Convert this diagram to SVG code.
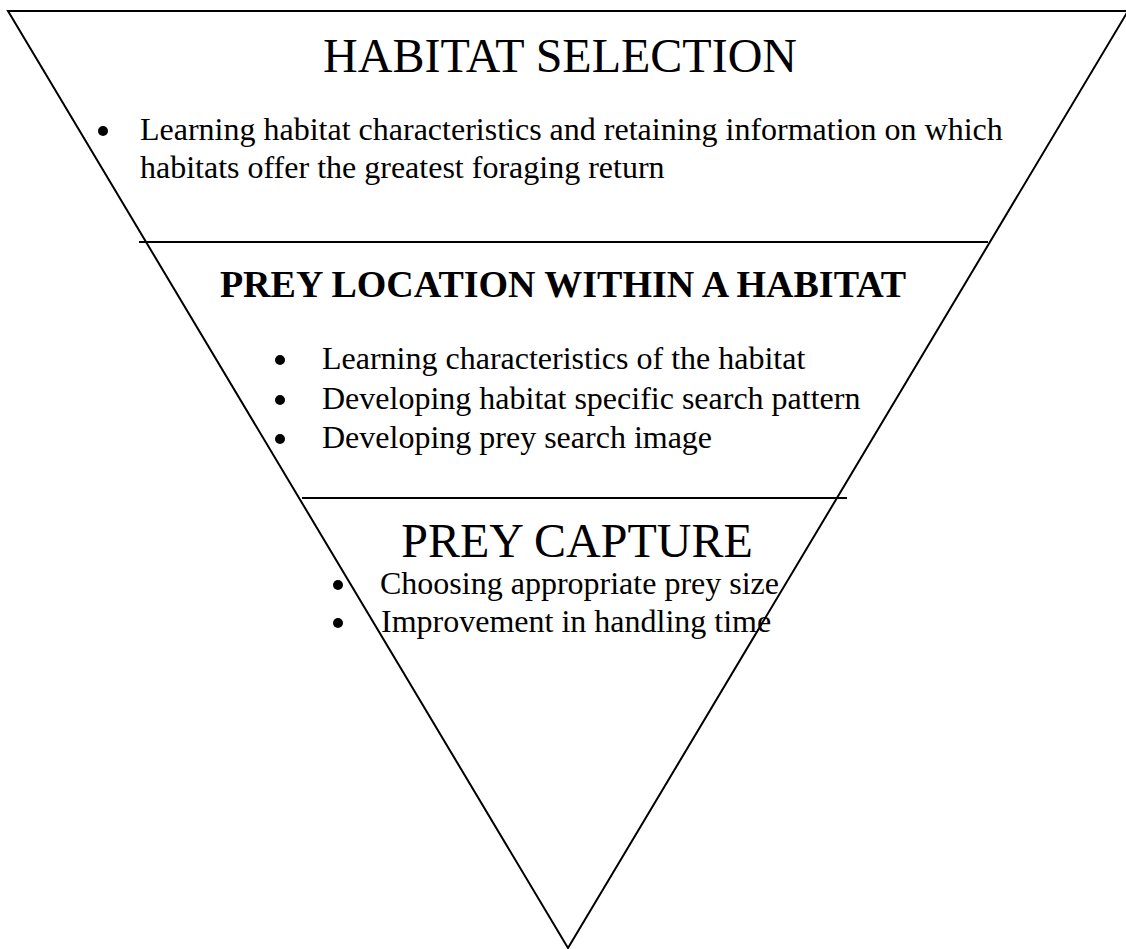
<svg xmlns="http://www.w3.org/2000/svg" width="1126" height="949" viewBox="0 0 1126 949">
<style>
.ln{stroke:#000;stroke-width:2;fill:none}
.t{font-family:"Liberation Serif","Times New Roman",serif;fill:#000}
.h{font-size:48px}
.hb{font-size:38px;font-weight:bold}
.b{font-size:32px}
</style>
<rect width="1126" height="949" fill="#fff"/>
<g id="connectors">
<polygon class="ln" points="8,11 1128,11 568,948"/>
<line class="ln" x1="139" y1="242" x2="988" y2="242"/>
<line class="ln" x1="302" y1="498" x2="847" y2="498"/>
</g>
<g id="habitat-selection">
<text class="t h" x="560" y="72" text-anchor="middle">HABITAT SELECTION</text>
<circle cx="103" cy="131" r="5"/>
<text class="t b" x="140" y="140">Learning habitat characteristics and retaining information on which</text>
<text class="t b" x="140" y="178">habitats offer the greatest foraging return</text>
</g>
<g id="prey-location">
<text class="t hb" x="563" y="297" text-anchor="middle">PREY LOCATION WITHIN A HABITAT</text>
<circle cx="280" cy="360" r="5"/>
<text class="t b" x="322" y="369">Learning characteristics of the habitat</text>
<circle cx="280" cy="400" r="5"/>
<text class="t b" x="322" y="409">Developing habitat specific search pattern</text>
<circle cx="280" cy="439" r="5"/>
<text class="t b" x="322" y="448">Developing prey search image</text>
</g>
<g id="prey-capture">
<text class="t h" x="577" y="557" text-anchor="middle">PREY CAPTURE</text>
<circle cx="338" cy="585" r="5"/>
<text class="t b" x="380" y="594">Choosing appropriate prey size</text>
<circle cx="338" cy="623" r="5"/>
<text class="t b" x="381" y="632">Improvement in handling time</text>
</g>
</svg>
